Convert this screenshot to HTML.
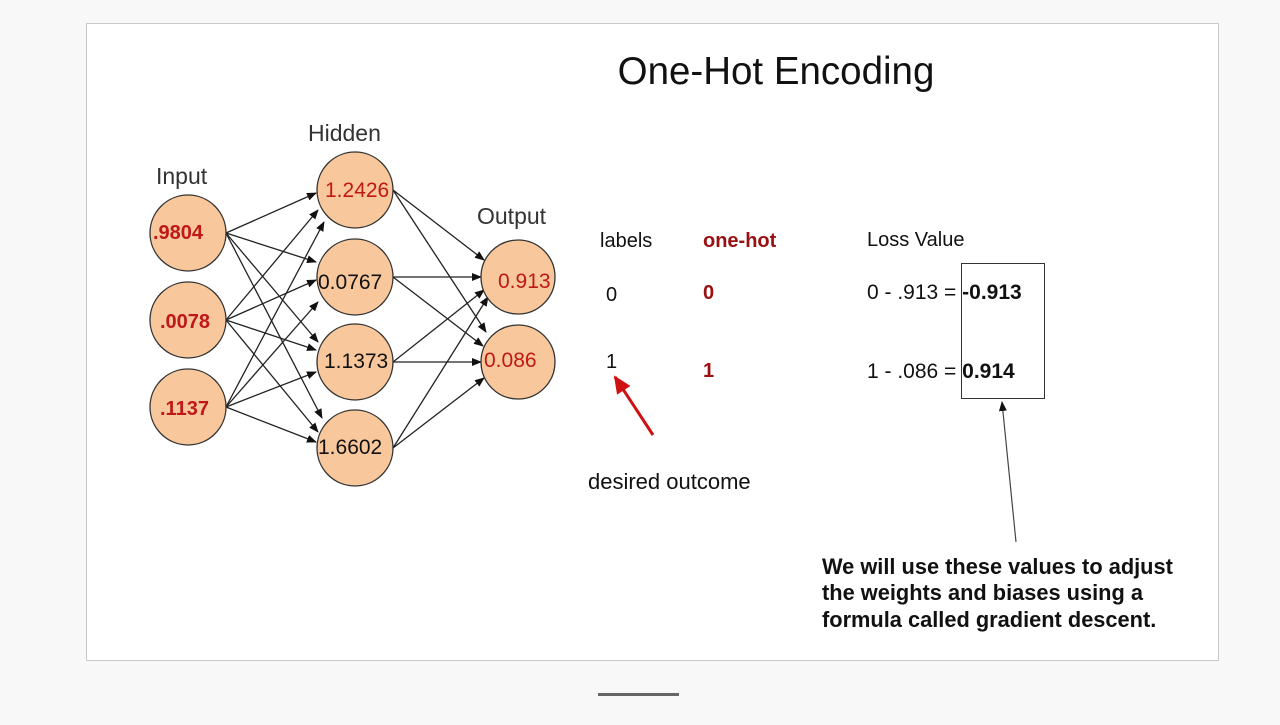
<!DOCTYPE html>
<html><head><style>
body{margin:0;width:1280px;height:720px;background:#f8f8f8;overflow:hidden;font-family:"Liberation Sans",sans-serif}
</style></head><body>
<svg width="1280" height="720" xmlns="http://www.w3.org/2000/svg" font-family="Liberation Sans, sans-serif">
<defs><marker id="a" markerWidth="10" markerHeight="8" refX="9" refY="4" orient="auto" markerUnits="userSpaceOnUse"><path d="M0,0L10,4L0,8z" fill="#111"/></marker>
<marker id="r" markerWidth="18" markerHeight="16" refX="16" refY="8" orient="auto" markerUnits="userSpaceOnUse"><path d="M0,0L18,8L0,16z" fill="#d01010"/></marker></defs>
<rect x="86.5" y="23.5" width="1132" height="637" fill="#fff" stroke="#c8c8c8"/>
<line x1="598" y1="694.5" x2="679" y2="694.5" stroke="#666" stroke-width="3"/>
<text x="776" y="84" font-size="38.5" text-anchor="middle" fill="#111">One-Hot Encoding</text>
<g stroke="#222" stroke-width="1.3" marker-end="url(#a)">
<line x1="226" y1="233" x2="316" y2="193"/><line x1="226" y1="233" x2="316" y2="262"/><line x1="226" y1="233" x2="318" y2="342"/><line x1="226" y1="233" x2="322" y2="418"/>
<line x1="226" y1="320" x2="318" y2="210"/><line x1="226" y1="320" x2="316" y2="280"/><line x1="226" y1="320" x2="316" y2="350"/><line x1="226" y1="320" x2="318" y2="432"/>
<line x1="226" y1="407" x2="324" y2="222"/><line x1="226" y1="407" x2="318" y2="302"/><line x1="226" y1="407" x2="316" y2="372"/><line x1="226" y1="407" x2="316" y2="442"/>
<line x1="393" y1="190" x2="484" y2="260"/><line x1="393" y1="190" x2="486" y2="332"/>
<line x1="393" y1="277" x2="481" y2="277"/><line x1="393" y1="277" x2="483" y2="346"/>
<line x1="393" y1="362" x2="484" y2="290"/><line x1="393" y1="362" x2="481" y2="362"/>
<line x1="393" y1="448" x2="488" y2="297"/><line x1="393" y1="448" x2="484" y2="378"/>
</g>
<g fill="#f8c89c" stroke="#333" stroke-width="1.3">
<circle cx="188" cy="233" r="38"/><circle cx="188" cy="320" r="38"/><circle cx="188" cy="407" r="38"/>
<circle cx="355" cy="190" r="38"/><circle cx="355" cy="277" r="38"/><circle cx="355" cy="362" r="38"/><circle cx="355" cy="448" r="38"/>
<circle cx="518" cy="277" r="37"/><circle cx="518" cy="362" r="37"/>
</g>
<g font-size="23" fill="#333"><text x="156" y="184">Input</text><text x="308" y="141">Hidden</text><text x="477" y="224">Output</text></g>
<g font-size="20" font-weight="bold" fill="#c01818"><text x="153" y="239">.9804</text><text x="160" y="328">.0078</text><text x="160" y="415">.1137</text></g>
<g font-size="21"><text x="325" y="197" fill="#c01818">1.2426</text><text x="318" y="289" fill="#111">0.0767</text><text x="324" y="368" fill="#111">1.1373</text><text x="318" y="454" fill="#111">1.6602</text>
<text x="498" y="288" fill="#c01818">0.913</text><text x="484" y="367" fill="#c01818">0.086</text></g>
<g font-size="20" fill="#111">
<text x="600" y="247">labels</text><text x="703" y="247" fill="#9a1010" font-weight="bold">one-hot</text><text x="867" y="246">Loss Value</text>
<text x="606" y="301">0</text><text x="703" y="299" fill="#9a1010" font-weight="bold">0</text>
<text x="606" y="368">1</text><text x="703" y="377" fill="#9a1010" font-weight="bold">1</text>
<text x="867" y="299" font-size="21">0 - .913 = <tspan font-weight="bold">-0.913</tspan></text>
<text x="867" y="378" font-size="21">1 - .086 = <tspan font-weight="bold">0.914</tspan></text>
<text x="588" y="489" font-size="22">desired outcome</text>
</g>
<rect x="961.5" y="263.5" width="83" height="135" fill="none" stroke="#333"/>
<line x1="653" y1="435" x2="615" y2="377" stroke="#d01010" stroke-width="3" marker-end="url(#r)"/>
<line x1="1016" y1="542" x2="1002" y2="402" stroke="#444" stroke-width="1.2" marker-end="url(#a)"/>
<g font-size="21.8" font-weight="bold" fill="#111"><text x="822" y="574">We will use these values to adjust</text><text x="822" y="600">the weights and biases using a</text><text x="822" y="627">formula called gradient descent.</text></g>
</svg>
</body></html>
